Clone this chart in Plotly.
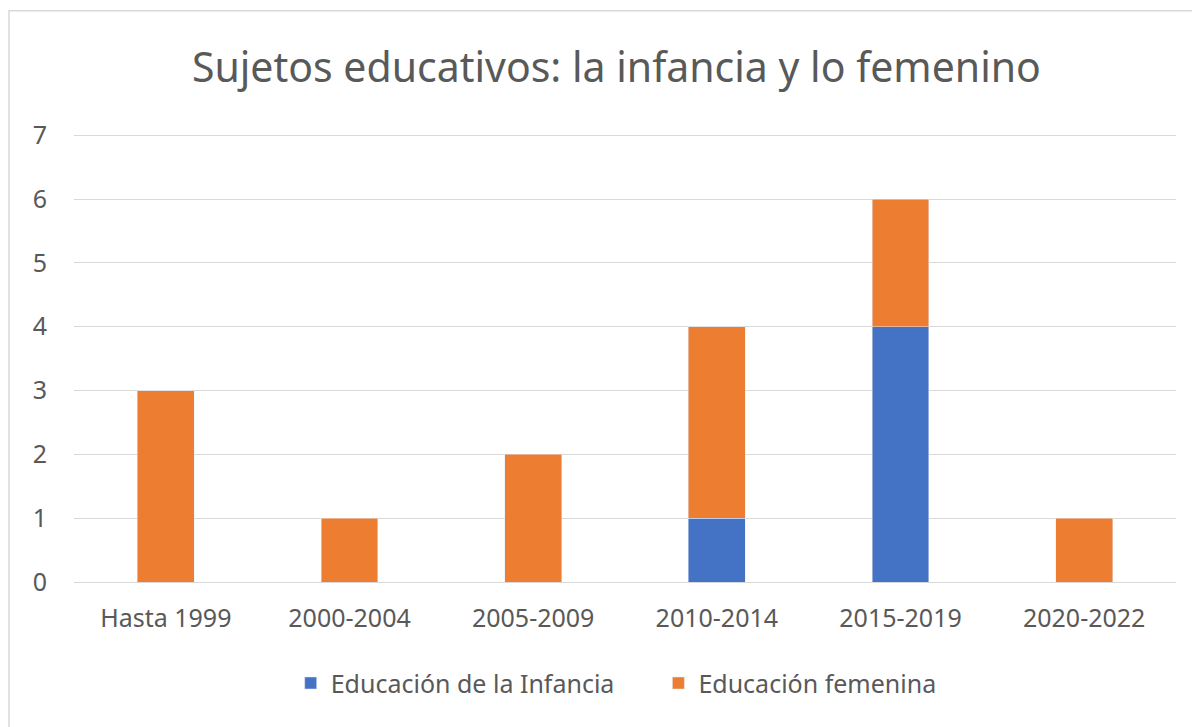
import plotly.graph_objects as go

periods = ["Hasta 1999", "2000-2004", "2005-2009", "2010-2014", "2015-2019", "2020-2022"]
infancia = [0, 0, 0, 1, 4, 0]
femenina = [3, 1, 2, 3, 2, 1]

BLUE = "#4472c4"
ORANGE = "#ed7d31"
GREY_TEXT = "#595959"
GRID = "#d9d9d9"
FONT = "Noto Sans"

fig = go.Figure()
fig.add_trace(
    go.Bar(
        x=periods,
        y=infancia,
        # trailing nbsp widens the gap between the two legend entries
        name="Educación de la Infancia" + "\u00a0" * 6,
        marker_color=BLUE,
    )
)
fig.add_trace(
    go.Bar(x=periods, y=femenina, name="Educación femenina", marker_color=ORANGE)
)

fig.update_layout(
    barmode="stack",
    bargap=0.69,
    width=1200,
    height=727,
    plot_bgcolor="white",
    paper_bgcolor="white",
    margin=dict(l=66, r=32, t=126, b=153),
    font=dict(family=FONT, size=25, color=GREY_TEXT),
    title=dict(
        text="Sujetos educativos: la infancia y lo femenino",
        x=0.507,
        xanchor="center",
        y=0.9175,
        yanchor="middle",
        font=dict(family=FONT, size=41, color=GREY_TEXT),
    ),
    legend=dict(
        orientation="h",
        x=0.492,
        xanchor="center",
        y=-0.226,
        yanchor="middle",
        font=dict(family=FONT, size=25, color=GREY_TEXT),
        traceorder="normal",
    ),
    showlegend=True,
)
fig.update_yaxes(
    range=[0, 7.02],
    dtick=1,
    showgrid=True,
    gridcolor=GRID,
    gridwidth=1.3,
    zeroline=False,
    showline=False,
    ticklabelstandoff=26,
    tickfont=dict(size=25, color=GREY_TEXT),
)
fig.update_xaxes(
    showline=True,
    linecolor=GRID,
    linewidth=1.3,
    ticklabelstandoff=14,
    tickfont=dict(size=25, color=GREY_TEXT),
)

# chart frame around the whole figure
fig.add_shape(
    type="rect",
    xref="paper",
    yref="paper",
    x0=-0.059,
    x1=1.06,
    y0=-0.4,
    y1=1.275,
    line=dict(color=GRID, width=1.5),
    fillcolor="rgba(0,0,0,0)",
    layer="below",
)

fig.write_html("out.html")
